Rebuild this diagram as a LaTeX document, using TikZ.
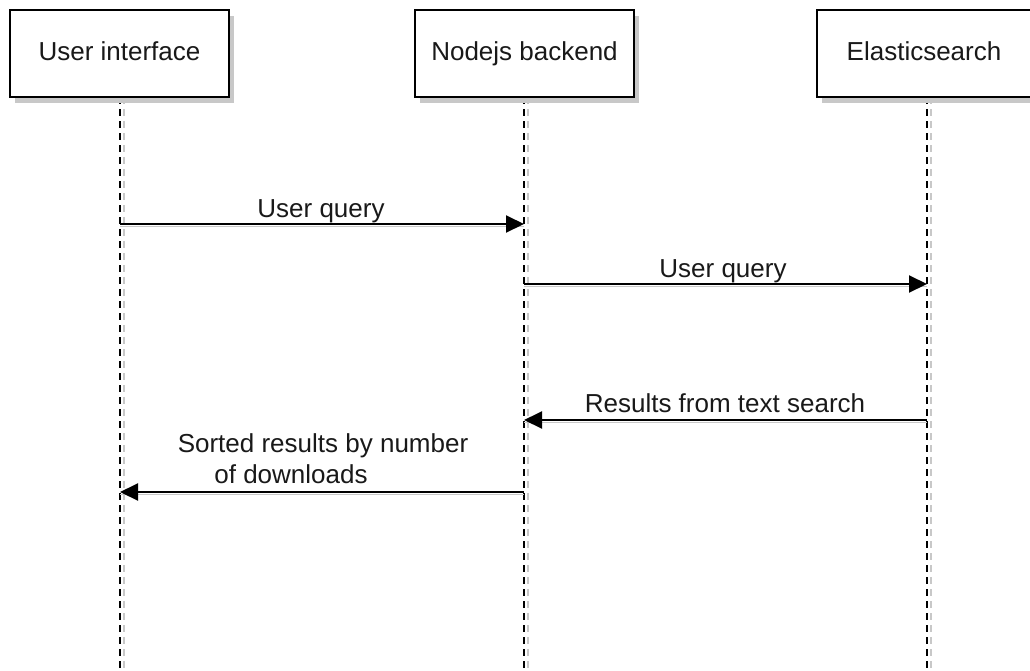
\documentclass[tikz,border=0pt]{standalone}
\usepackage{fontspec}
\setmainfont{Liberation Sans}
\usetikzlibrary{arrows.meta}
\definecolor{shadowgray}{RGB}{200,200,200}
\definecolor{txt}{RGB}{25,25,25}
\tikzset{
  actor/.style={draw=black, line width=2pt, fill=white, minimum width=219pt, minimum height=87pt,
    inner sep=0pt, font=\fontsize{26}{31}\selectfont, text=txt, text height=19pt, text depth=6pt,
    preaction={draw=none, fill=shadowgray, transform canvas={xshift=5pt, yshift=-6pt}}},
  lifeline/.style={line width=2pt, dash pattern=on 7pt off 5pt,
    preaction={draw=shadowgray, line width=1.5pt, dash pattern=on 7pt off 5pt, transform canvas={xshift=4pt}}},
  msg/.style={line width=2pt, -{Triangle[length=18pt,width=17pt]},
    preaction={draw=shadowgray, -, line width=1.5pt, transform canvas={yshift=-2.5pt}}},
  lbl/.style={font=\fontsize{26}{31}\selectfont, text=txt, inner sep=0pt, align=center}
}
\begin{document}
\begin{tikzpicture}[x=1pt,y=-1pt]
\useasboundingbox (0,0) rectangle (1030,670);
\fill[white] (0,0) rectangle (1030,670);
% lifelines
\coordinate (ut) at (120,97); \coordinate (ub) at (120,670);
\coordinate (nt) at (524,97); \coordinate (nb) at (524,670);
\coordinate (et) at (927,97); \coordinate (eb) at (927,670);
\draw[lifeline] (ut) -- (ub);
\draw[lifeline] (nt) -- (nb);
\draw[lifeline] (et) -- (eb);
% actors
\node[actor] (ui) at (119.5,53.5) {User interface};
\node[actor] (nj) at (524.5,53.5) {Nodejs backend};
\node[actor] (es) at (926.5,53.5) {\hspace*{-5pt}Elasticsearch};
% message anchor points
\coordinate (u1) at (120,224); \coordinate (n1) at (524,224);
\coordinate (n2) at (524,284); \coordinate (e2) at (927,284);
\coordinate (e3) at (927,420); \coordinate (n3) at (524,420);
\coordinate (n4) at (524,492); \coordinate (u4) at (120,492);
\draw[msg] (u1) -- (n1);
\draw[msg] (n2) -- (e2);
\draw[msg] (e3) -- (n3);
\draw[msg] (n4) -- (u4);
% labels
\node[lbl, anchor=base] (l1) at (321,217) {User query};
\node[lbl, anchor=base] (l2) at (723,277) {User query};
\node[lbl, anchor=base] (l3) at (725,412) {Results from text search};
\node[lbl, anchor=base] (l4a) at (323,452) {Sorted results by number};
\node[lbl, anchor=base] (l4b) at (291,483) {of downloads};
\end{tikzpicture}
\end{document}
